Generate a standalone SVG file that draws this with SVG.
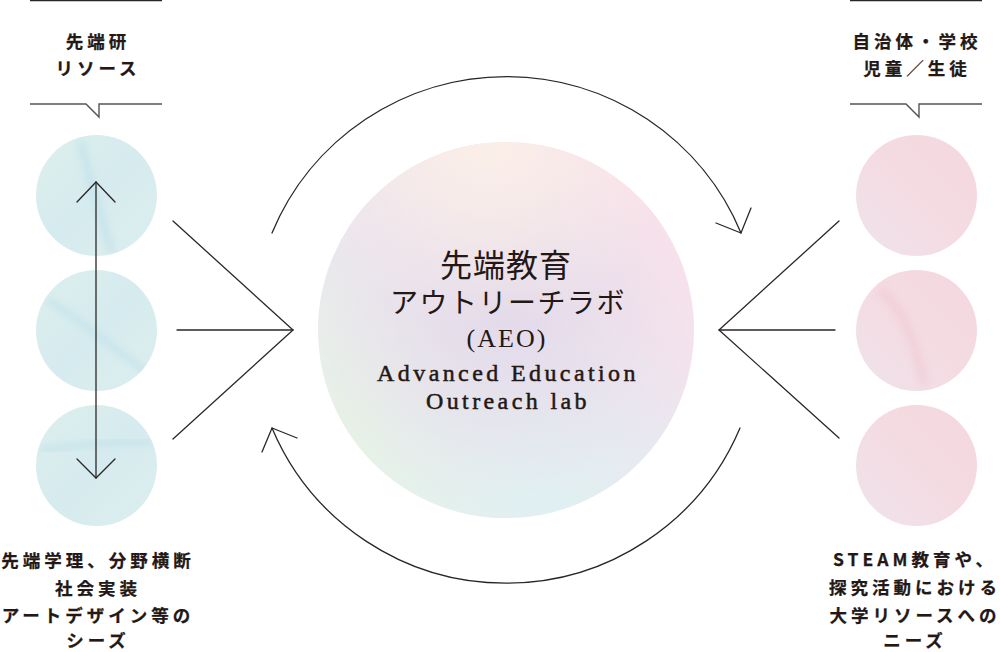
<svg xmlns="http://www.w3.org/2000/svg" width="1000" height="652" viewBox="0 0 1000 652">
<style>
.ln{fill:none;stroke:#2b2626;stroke-width:1.3;stroke-linecap:round;stroke-linejoin:miter}
.bub{fill:none;stroke:#555;stroke-width:1.4}
.top{stroke:#2b2626;stroke-width:2.5}
.jp{font-family:"Noto Sans CJK JP","Noto Sans",sans-serif;font-weight:700;font-size:17.5px;fill:#231815;letter-spacing:4px;text-anchor:middle;stroke:#231815;stroke-width:0.25}
.cj{font-family:"Liberation Serif","Noto Sans CJK JP",serif;fill:#231815;text-anchor:middle}
.en{font-family:"Liberation Serif",serif;fill:#231815;text-anchor:middle;font-size:24px;letter-spacing:3.4px;stroke:#231815;stroke-width:0.5}
.streak{fill:none;filter:url(#soft)}
</style>
<defs>
<filter id="soft" x="-20%" y="-20%" width="140%" height="140%"><feGaussianBlur stdDeviation="3"/></filter>
<clipPath id="cl1"><circle cx="96.5" cy="195.5" r="60.5"/></clipPath>
<clipPath id="cl2"><circle cx="96.5" cy="330.5" r="60.5"/></clipPath>
<clipPath id="cl3"><circle cx="96.5" cy="465.5" r="60.5"/></clipPath>
<clipPath id="cr2"><circle cx="916.5" cy="330.5" r="60.5"/></clipPath>
<linearGradient id="gBlue" x1="0" y1="0" x2="1" y2="1">
<stop offset="0" stop-color="#dcefec"/><stop offset="0.5" stop-color="#d6ebef"/><stop offset="1" stop-color="#ddefee"/>
</linearGradient>
<linearGradient id="gPink" x1="1" y1="0" x2="0" y2="1">
<stop offset="0" stop-color="#f5d6de"/><stop offset="0.55" stop-color="#f4dce3"/><stop offset="1" stop-color="#efe3ec"/>
</linearGradient>
<linearGradient id="gMain" x1="0.85" y1="0.1" x2="0.15" y2="0.9">
<stop offset="0" stop-color="#f9e1ea"/><stop offset="0.5" stop-color="#ece4ee"/><stop offset="1" stop-color="#e6f2e6"/>
</linearGradient>
<radialGradient id="gMainB" cx="0.6" cy="1" r="0.55">
<stop offset="0" stop-color="#dff0f2" stop-opacity="1"/><stop offset="1" stop-color="#e2f0f3" stop-opacity="0"/>
</radialGradient>
<radialGradient id="gMainC" cx="0.5" cy="0.45" r="0.5">
<stop offset="0" stop-color="#e2d9ea" stop-opacity="0.95"/><stop offset="1" stop-color="#e6dcea" stop-opacity="0"/>
</radialGradient>
<radialGradient id="gMainT" cx="0.45" cy="0" r="0.5">
<stop offset="0" stop-color="#fbefe8" stop-opacity="1"/><stop offset="1" stop-color="#fbefe8" stop-opacity="0"/>
</radialGradient>
</defs>

<g id="left-header">
<line class="top" x1="30" y1="0" x2="162" y2="0"/>
<text class="jp" x="98" y="48">先端研</text>
<text class="jp" x="98" y="75">リソース</text>
<polyline class="bub" points="30,104 86,104 99,117 99,104 162,104"/>
</g>

<g id="right-header">
<line class="top" x1="850" y1="0" x2="982" y2="0"/>
<text class="jp" x="917" y="48">自治体・学校</text>
<text class="jp" x="917" y="75">児童／生徒</text>
<polyline class="bub" points="850,104 906,104 919,117 919,104 982,104"/>
</g>

<g id="left-circles">
<circle cx="96.5" cy="195.5" r="60.5" fill="url(#gBlue)"/>
<g clip-path="url(#cl1)"><path class="streak" d="M80,140 C88,170 95,200 112,252" stroke="#bfe0ea" stroke-width="8" opacity="0.6"/></g>
<circle cx="96.5" cy="330.5" r="60.5" fill="url(#gBlue)"/>
<g clip-path="url(#cl2)"><path class="streak" d="M48,300 C80,320 110,345 150,375" stroke="#bfe0ea" stroke-width="7" opacity="0.6"/></g>
<circle cx="96.5" cy="465.5" r="60.5" fill="url(#gBlue)"/>
<g clip-path="url(#cl3)"><path class="streak" d="M40,450 C80,445 120,440 152,442" stroke="#bfe0ea" stroke-width="7" opacity="0.6"/></g>
</g>

<g id="right-circles">
<circle cx="916.5" cy="195.5" r="60.5" fill="url(#gPink)"/>
<circle cx="916.5" cy="330.5" r="60.5" fill="url(#gPink)"/>
<g clip-path="url(#cr2)"><path class="streak" d="M880,290 C905,310 915,345 925,385" stroke="#efc6d2" stroke-width="9" opacity="0.5"/></g>
<circle cx="916.5" cy="465.5" r="60.5" fill="url(#gPink)"/>
</g>

<g id="center">
<circle cx="506" cy="330" r="188" fill="url(#gMain)"/>
<circle cx="506" cy="330" r="188" fill="url(#gMainB)"/>
<circle cx="506" cy="330" r="188" fill="url(#gMainC)"/>
<circle cx="506" cy="330" r="188" fill="url(#gMainT)"/>
<text class="cj" x="506" y="277" font-size="32" letter-spacing="1">先端教育</text>
<text class="cj" x="508" y="313" font-size="28" letter-spacing="1.5">アウトリーチラボ</text>
<text class="cj" x="507" y="347" font-size="26" letter-spacing="2">(AEO)</text>
<text class="en" x="508" y="381">Advanced Education</text>
<text class="en" x="508" y="409">Outreach lab</text>
</g>

<g id="left-footer">
<text class="jp" x="98" y="567">先端学理、分野横断</text>
<text class="jp" x="98" y="595">社会実装</text>
<text class="jp" x="98" y="622">アートデザイン等の</text>
<text class="jp" x="98" y="647">シーズ</text>
</g>

<g id="right-footer">
<text class="jp" x="915" y="566">STEAM教育や、</text>
<text class="jp" x="915" y="594">探究活動における</text>
<text class="jp" x="915" y="622">大学リソースへの</text>
<text class="jp" x="915" y="647">ニーズ</text>
</g>

<g id="connectors">
<line class="ln" x1="96" y1="182" x2="96" y2="478"/>
<polyline class="ln" points="77,202 96,182 115,202"/>
<polyline class="ln" points="77,459 96,478 115,459"/>
<polyline class="ln" points="173,221 293,330 173,439"/>
<line class="ln" x1="177" y1="330" x2="293" y2="330"/>
<polyline class="ln" points="839,221 719,330 839,438"/>
<line class="ln" x1="719" y1="330" x2="835" y2="330"/>
<path class="ln" d="M272,233 A254,254 0 0 1 741,233"/>
<polyline class="ln" points="716,223 741,233 751,208"/>
<path class="ln" d="M740,428 A254,254 0 0 1 272,428"/>
<polyline class="ln" points="262,452 272,428 297,438"/>
</g>
</svg>
